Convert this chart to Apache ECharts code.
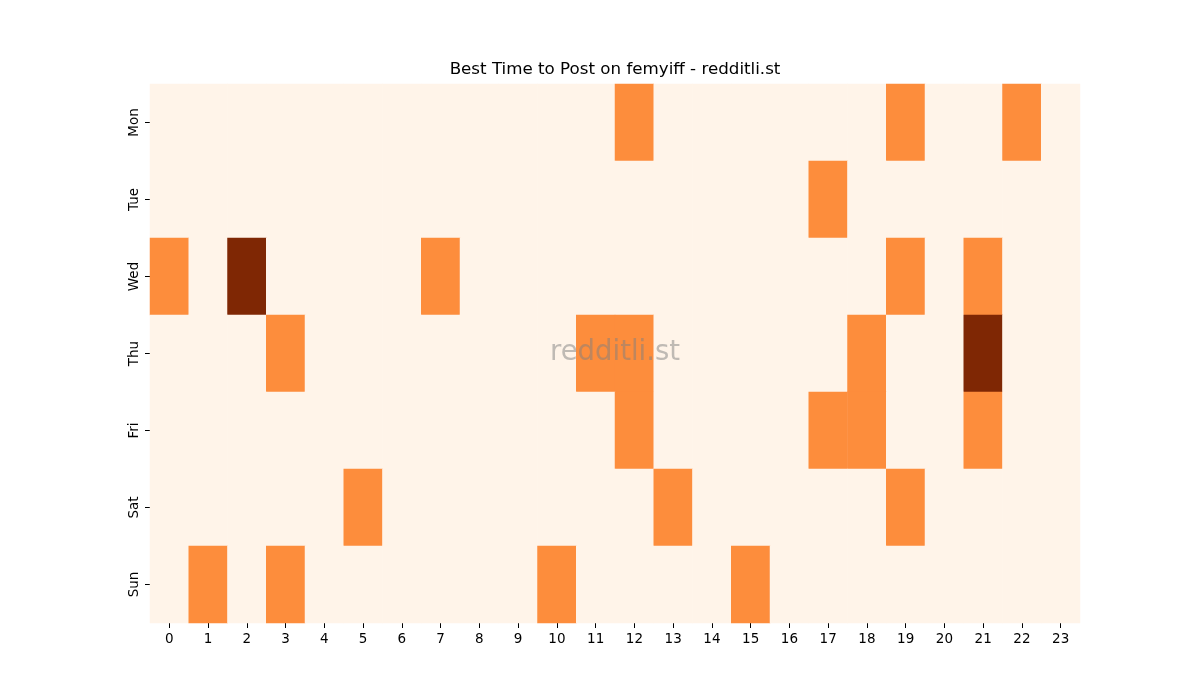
<!DOCTYPE html>
<html>
<head>
<meta charset="utf-8">
<script src="https://cdn.jsdelivr.net/npm/echarts@6/dist/echarts.min.js"></script>
<style>
  html, body { margin: 0; padding: 0; background: #fff; }
  #main { width: 1200px; height: 700px; }
</style>
</head>
<body>
<div id="main"></div>
<script>
// hours along the bottom, days down the side
const hours = ['0','1','2','3','4','5','6','7','8','9','10','11','12','13','14','15','16','17','18','19','20','21','22','23']
const days = ['Mon', 'Tue', 'Wed', 'Thu', 'Fri', 'Sat', 'Sun']

// post counts per hour, one row per day
const mon = [0,0,0,0,0,0,0,0,0,0,0,0,1,0,0,0,0,0,0,1,0,0,1,0]
const tue = [0,0,0,0,0,0,0,0,0,0,0,0,0,0,0,0,0,1,0,0,0,0,0,0]
const wed = [1,0,2,0,0,0,0,1,0,0,0,0,0,0,0,0,0,0,0,1,0,1,0,0]
const thu = [0,0,0,1,0,0,0,0,0,0,0,1,1,0,0,0,0,0,1,0,0,2,0,0]
const fri = [0,0,0,0,0,0,0,0,0,0,0,0,1,0,0,0,0,1,1,0,0,1,0,0]
const sat = [0,0,0,0,0,1,0,0,0,0,0,0,0,1,0,0,0,0,0,1,0,0,0,0]
const sun = [0,1,0,1,0,0,0,0,0,0,1,0,0,0,0,1,0,0,0,0,0,0,0,0]

const rows = [mon, tue, wed, thu, fri, sat, sun]
let cells = []
rows.forEach((row, d) => {
  row.forEach((v, h) => cells.push([h, d, v]))
})

const chart = echarts.init(document.getElementById('main'))
const font = 'DejaVu Sans'

const option = {
  animation: false,
  backgroundColor: '#ffffff',
  grid: { left: 150, right: 120, top: 84, bottom: 77 },
  xAxis: {
    type: 'category',
    data: hours,
    splitArea: { show: false },
    axisLine: { show: false },
    axisTick: { show: true, alignWithLabel: true, length: 5, lineStyle: { color: '#000', width: 1 } },
    axisLabel: { fontFamily: font, fontSize: 13.5, color: '#000', margin: 9, interval: 0 },
  },
  yAxis: {
    type: 'category',
    data: days,
    inverse: true,
    axisLine: { show: false },
    axisTick: { show: true, alignWithLabel: true, length: 5, lineStyle: { color: '#000', width: 1 } },
    axisLabel: { fontFamily: font, fontSize: 13.5, color: '#000', rotate: 90, margin: 9 },
  },
  visualMap: {
    show: false,
    type: 'piecewise',
    dimension: 2,
    pieces: [
      { value: 0, color: '#fff4e9' },
      { value: 1, color: '#fd8d3c' },
      { value: 2, color: '#7f2704' },
    ],
  },
  graphic: [
    {
      // title
      type: 'text',
      x: 615,
      y: 70,
      style: {
        text: 'Best Time to Post on femyiff - redditli.st',
        fontFamily: font,
        fontSize: 16.7,
        fill: '#000',
        align: 'center',
        verticalAlign: 'middle',
      },
    },
    {
      // watermark
      type: 'text',
      x: 615,
      y: 353,
      z: 100,
      style: {
        text: 'redditli.st',
        fontFamily: font,
        fontSize: 27.5,
        fill: 'rgba(128,128,128,0.5)',
        align: 'center',
        verticalAlign: 'middle',
      },
    },
  ],
  series: [
    {
      type: 'heatmap',
      data: cells,
      itemStyle: { borderWidth: 0 },
      emphasis: { disabled: true },
    },
  ],
}

chart.setOption(option)
</script>
</body>
</html>
